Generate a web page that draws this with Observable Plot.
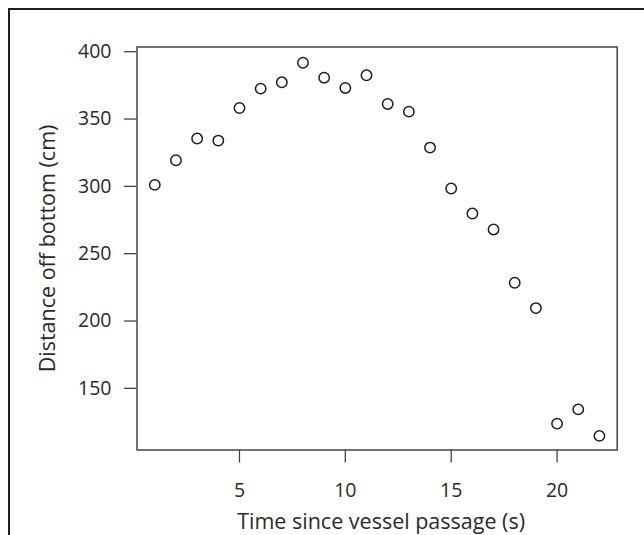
<!DOCTYPE html>
<html>
<head>
<meta charset="utf-8">
<script src="https://cdn.jsdelivr.net/npm/d3@7"></script>
<script src="https://cdn.jsdelivr.net/npm/@observablehq/plot@0.6"></script>
<style>
  html, body { margin: 0; padding: 0; background: #fff; overflow: hidden; }
  #wrap { position: relative; width: 644px; height: 535px; }
  #border { position: absolute; left: 8px; top: 8px; width: 700px; height: 600px;
            border-left: 2.5px solid #231f20; border-top: 2.5px solid #231f20; }
  #chart { position: absolute; left: 0; top: 0; }
</style>
</head>
<body>
<div id="wrap"><div id="border"></div><div id="chart"></div></div>
<script>
const time = [1,2,3,4,5,6,7,8,9,10,11,12,13,14,15,16,17,18,19,20,21,22];
const distance = [301.1,319.4,335.5,334.0,358.2,372.6,377.3,391.8,380.7,373.1,382.5,361.2,355.5,328.8,298.4,279.8,268.0,228.4,209.6,123.8,134.4,114.7];
const xTicks = [5,10,15,20];
const yTicks = [150,200,250,300,350,400];
const xTitle = "Time since vessel passage (s)";
const yTitle = "Distance off bottom (cm)";

const data = time.map((t, i) => ({t, d: distance[i]}));
const font = "'Open Sans', sans-serif";
const ink = "#444";
const textInk = "#2a2a2a";

const chart = Plot.plot({
  width: 644,
  height: 535,
  marginLeft: 136.5,
  marginRight: 27.3,
  marginTop: 46.5,
  marginBottom: 85.5,
  style: {fontFamily: font, fontSize: "19.5px", color: textInk, background: "transparent"},
  x: {domain: [0.16, 22.84]},
  y: {domain: [104.2, 403.5]},
  marks: [
    Plot.frame({stroke: ink, strokeWidth: 1.5}),
    Plot.axisX({ticks: xTicks, tickSize: 13, tickPadding: 20, label: null, stroke: ink, strokeWidth: 1.3, fontSize: 19.5}),
    Plot.axisY({ticks: yTicks, tickSize: 12.5, tickPadding: 13, label: null, stroke: ink, strokeWidth: 1.3, fontSize: 19.5}),
    Plot.dot(data, {x: "t", y: "d", r: 5.2, stroke: "#1e1e1e", strokeWidth: 1.5, fill: "none"}),
    Plot.text([xTitle], {text: d => d, frameAnchor: "bottom", textAnchor: "middle", lineAnchor: "middle", dx: 4, dy: 72.5, fontSize: 21.5, fill: textInk}),
    Plot.text([yTitle], {text: d => d, frameAnchor: "left", textAnchor: "middle", lineAnchor: "middle", dx: -89, rotate: -90, fontSize: 21.5, fill: textInk})
  ]
});
document.getElementById("chart").appendChild(chart);
</script>
</body>
</html>
